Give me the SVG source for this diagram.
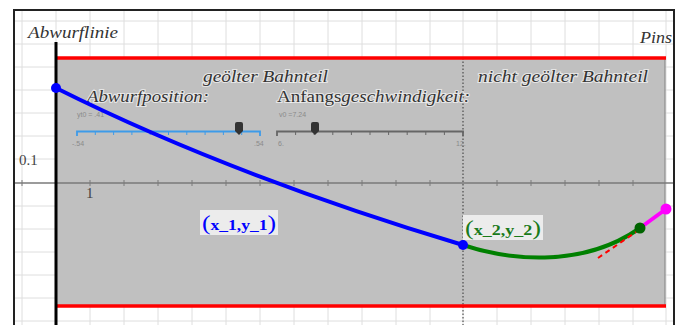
<svg xmlns="http://www.w3.org/2000/svg" width="682" height="325" viewBox="0 0 682 325">
<style>
.grid line{stroke:#dedede;stroke-width:1}
.ital{font-family:"Liberation Serif","Times New Roman",serif;font-style:italic;fill:#333;stroke:#fff;stroke-opacity:.6;stroke-width:2.2;paint-order:stroke;}
.up{font-style:normal}
.num{font-family:"Liberation Serif",serif;font-size:15px;fill:#444}
.sl{font-family:"Liberation Sans",sans-serif;font-size:7px;fill:#8a8a8a}
.lbl{font-family:"Liberation Serif",serif;font-weight:bold;font-size:15px}
.par{font-weight:normal;font-size:22px}
.tick{stroke-width:1}
</style>
<rect x="0" y="0" width="682" height="325" fill="#fff"/>
<g class="grid">
<line x1="22" y1="10" x2="22" y2="325"/><line x1="56" y1="10" x2="56" y2="325"/><line x1="90" y1="10" x2="90" y2="325"/><line x1="124" y1="10" x2="124" y2="325"/><line x1="158" y1="10" x2="158" y2="325"/><line x1="192" y1="10" x2="192" y2="325"/><line x1="226" y1="10" x2="226" y2="325"/><line x1="260" y1="10" x2="260" y2="325"/><line x1="294" y1="10" x2="294" y2="325"/><line x1="328" y1="10" x2="328" y2="325"/><line x1="362" y1="10" x2="362" y2="325"/><line x1="396" y1="10" x2="396" y2="325"/><line x1="430" y1="10" x2="430" y2="325"/><line x1="463" y1="10" x2="463" y2="325"/><line x1="497" y1="10" x2="497" y2="325"/><line x1="531" y1="10" x2="531" y2="325"/><line x1="565" y1="10" x2="565" y2="325"/><line x1="599" y1="10" x2="599" y2="325"/><line x1="633" y1="10" x2="633" y2="325"/><line x1="666" y1="10" x2="666" y2="325"/>
<line x1="14" y1="21" x2="674" y2="21"/><line x1="14" y1="44" x2="674" y2="44"/><line x1="14" y1="67" x2="674" y2="67"/><line x1="14" y1="90" x2="674" y2="90"/><line x1="14" y1="113" x2="674" y2="113"/><line x1="14" y1="136" x2="674" y2="136"/><line x1="14" y1="159" x2="674" y2="159"/><line x1="14" y1="206" x2="674" y2="206"/><line x1="14" y1="229" x2="674" y2="229"/><line x1="14" y1="252" x2="674" y2="252"/><line x1="14" y1="275" x2="674" y2="275"/><line x1="14" y1="298" x2="674" y2="298"/><line x1="14" y1="321" x2="674" y2="321"/>
</g>
<rect id="bahn" x="56" y="58" width="609" height="248" fill="#c0c0c0"/>
<line x1="665" y1="58" x2="665" y2="306" stroke="#8c8c8c" stroke-width="1.2"/>
<g id="axis" stroke="#7a7a7a">
<line x1="14" y1="183" x2="674" y2="183" stroke-width="1.3"/>
<path class="tick" d="M22,180v6M90,180v6M124,180v6M158,180v6M192,180v6M226,180v6M260,180v6M294,180v6M328,180v6M362,180v6M396,180v6M430,180v6M497,180v6M531,180v6M565,180v6M599,180v6M633,180v6"/>
</g>
<text class="num" x="19" y="165">0.1</text>
<text class="num" x="86" y="198">1</text>
<line x1="463" y1="58" x2="463" y2="325" stroke="#333" stroke-width="1" stroke-dasharray="1.5,2"/>
<line x1="56" y1="58" x2="666" y2="58" stroke="#ff0000" stroke-width="3.5"/>
<line x1="56" y1="306" x2="666" y2="306" stroke="#ff0000" stroke-width="3.5"/>
<line id="abwurflinie" x1="56" y1="42" x2="56" y2="325" stroke="#000" stroke-width="3"/>
<rect x="14" y="10" width="660" height="330" fill="none" stroke="#222" stroke-width="2"/>
<text class="ital" x="28" y="38" font-size="16" textLength="90" lengthAdjust="spacingAndGlyphs">Abwurflinie</text>
<text class="ital" x="640" y="43" font-size="16" textLength="32" lengthAdjust="spacingAndGlyphs">Pins</text>
<text class="ital" x="203" y="82" font-size="17" textLength="125" lengthAdjust="spacingAndGlyphs">geölter Bahnteil</text>
<text class="ital" x="478" y="82" font-size="17" textLength="170" lengthAdjust="spacingAndGlyphs">nicht geölter Bahnteil</text>
<g id="slider-yt0">
<text class="ital" x="87" y="102" font-size="17" textLength="122" lengthAdjust="spacingAndGlyphs">Abwurfposition:</text>
<text class="sl" x="77" y="117">yt0 = .41</text>
<path d="M77,136v-4.5h183v4.5" fill="none" stroke="#3d9be9" stroke-width="1.8"/>
<path d="M95.3,132v3M113.6,132v3M131.9,132v3M150.2,132v3M168.5,132v3M186.8,132v3M205.1,132v3M223.4,132v3M241.7,132v3" stroke="#3d9be9" stroke-width="1"/>
<path d="M235,124q0,-2 2,-2h4q2,0 2,2v7l-4,4l-4,-4z" fill="#333"/>
<text class="sl" x="72" y="146">-.54</text>
<text class="sl" x="254" y="146">.54</text>
</g>
<g id="slider-v0">
<text class="ital" x="277" y="102" font-size="17" textLength="193" lengthAdjust="spacingAndGlyphs"><tspan class="up">Anfangs</tspan>geschwindigkeit:</text>
<text class="sl" x="279" y="117">v0 =7.24</text>
<path d="M277,136v-4.5h186v4.5" fill="none" stroke="#666" stroke-width="1.8"/>
<path d="M295.6,132v3M314.2,132v3M332.8,132v3M351.4,132v3M370,132v3M388.6,132v3M407.2,132v3M425.8,132v3M444.4,132v3" stroke="#666" stroke-width="1"/>
<path d="M311,124q0,-2 2,-2h4q2,0 2,2v7l-4,4l-4,-4z" fill="#333"/>
<text class="sl" x="278" y="146">6.</text>
<text class="sl" x="456" y="146">12.</text>
</g>
<g id="connectors" fill="none" stroke-linecap="round">
<path id="wurf1" d="M56,88Q230,175 463,245" stroke="#0000ff" stroke-width="4"/>
<path id="wurf2" d="M463,245C505,259 580,270 640,228" stroke="#008000" stroke-width="4"/>
<path id="pin" d="M640,228L666,209" stroke="#ff00ff" stroke-width="4"/>
<path id="tangent" d="M598,258L636,232" stroke="#ff0000" stroke-width="2" stroke-dasharray="5,4" stroke-linecap="butt"/>
</g>
<g id="start"><circle cx="56" cy="88" r="5" fill="#0000ff"/></g>
<g id="p1"><circle cx="463" cy="245" r="5" fill="#0000ff"/></g>
<g id="p2"><circle cx="640" cy="228" r="5.5" fill="#006400"/></g>
<g id="p3"><circle cx="666" cy="209" r="5.5" fill="#ff00ff"/></g>
<g id="label1">
<rect x="200" y="210" width="78" height="25" fill="#ececec"/>
<text class="lbl" x="202" y="230" fill="#0000ff" textLength="74" lengthAdjust="spacingAndGlyphs"><tspan class="par">(</tspan>x_1,y_1<tspan class="par">)</tspan></text>
</g>
<g id="label2">
<rect x="463" y="215" width="80" height="25" fill="#ececec"/>
<text class="lbl" x="465" y="235" fill="#1a7a1a" textLength="76" lengthAdjust="spacingAndGlyphs"><tspan class="par">(</tspan>x_2,y_2<tspan class="par">)</tspan></text>
</g>
</svg>
